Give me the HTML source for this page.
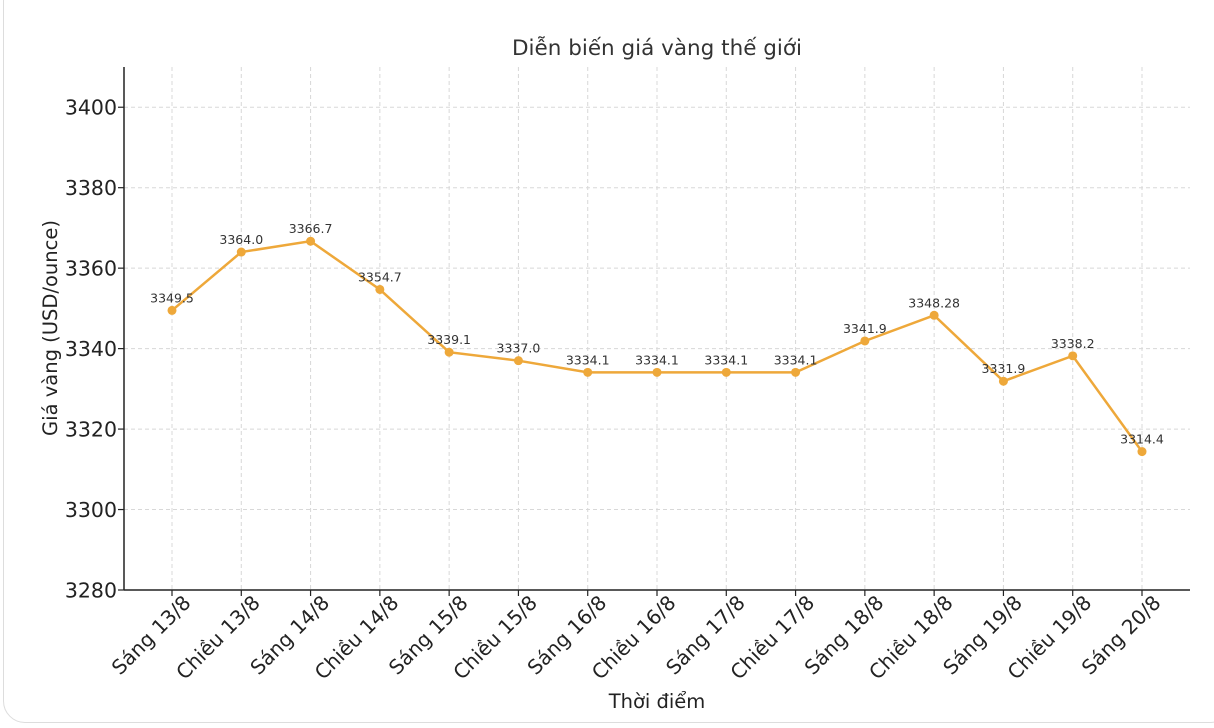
<!DOCTYPE html>
<html><head><meta charset="utf-8"><style>
body{margin:0;background:#fff;}
.frame{position:absolute;left:3px;top:-20px;width:1230px;height:743px;border:1.5px solid #ddd;border-radius:22px;box-sizing:border-box;}
svg{position:absolute;left:0;top:0;font-family:"DejaVu Sans","Liberation Sans",sans-serif;}
</style></head><body>
<div class="frame"></div>
<svg id="chart" width="1214" height="728"></svg>
<script>
const categories=["Sáng 13/8","Chiều 13/8","Sáng 14/8","Chiều 14/8","Sáng 15/8","Chiều 15/8","Sáng 16/8","Chiều 16/8","Sáng 17/8","Chiều 17/8","Sáng 18/8","Chiều 18/8","Sáng 19/8","Chiều 19/8","Sáng 20/8"];
const values=[3349.5,3364.0,3366.7,3354.7,3339.1,3337.0,3334.1,3334.1,3334.1,3334.1,3341.9,3348.28,3331.9,3338.2,3314.4];
const valueLabels=["3349.5","3364.0","3366.7","3354.7","3339.1","3337.0","3334.1","3334.1","3334.1","3334.1","3341.9","3348.28","3331.9","3338.2","3314.4"];
const yTicks=[3280,3300,3320,3340,3360,3380,3400];
const NS="http://www.w3.org/2000/svg";
const svg=document.getElementById('chart');
const L=124,R=1190,T=67,B=590;
const yMin=3280,yMax=3410;
function y(v){return B-(v-yMin)/(yMax-yMin)*(B-T);}
function x(i){return 172+i*(1142-172)/(categories.length-1);}
function mk(tag,attrs,parent){const e=document.createElementNS(NS,tag);for(const k in attrs)e.setAttribute(k,attrs[k]);(parent||svg).appendChild(e);return e;}
yTicks.forEach(t=>{
  const g=mk('line',{x1:L,x2:R,y1:y(t),y2:y(t),stroke:'#d8d8d8','stroke-dasharray':'4,3','stroke-width':1});
  
  
  mk('line',{x1:L-6,x2:L,y1:y(t),y2:y(t),stroke:'#222','stroke-width':1.2});
  const tx=mk('text',{x:L-7,y:y(t)+7.5,'text-anchor':'end','font-size':20.5,fill:'#222'});
  tx.textContent=t;
  
  
});
categories.forEach((c,i)=>{
  const g=mk('line',{x1:x(i),x2:x(i),y1:T,y2:B,stroke:'#d8d8d8','stroke-dasharray':'4,3','stroke-width':1});
  
  
  mk('line',{x1:x(i),x2:x(i),y1:B,y2:B+6,stroke:'#222','stroke-width':1.2});
  const ax=x(i)+20, ay=B+14;
  const tx=mk('text',{x:ax,y:ay,'text-anchor':'end','font-size':20,fill:'#222',transform:`rotate(-45 ${ax} ${ay})`});
  tx.textContent=c;
  
  
});
mk('line',{x1:L,x2:L,y1:T,y2:B,stroke:'#222','stroke-width':1.5});
mk('line',{x1:L,x2:R,y1:B,y2:B,stroke:'#222','stroke-width':1.5});
const pl=mk('polyline',{points:values.map((v,i)=>x(i)+','+y(v)).join(' '),fill:'none',stroke:'#eea83a','stroke-width':2.5});


values.forEach((v,i)=>{
  const c=mk('circle',{cx:x(i),cy:y(v),r:4.5,fill:'#eea83a'});
  
  
  const t=mk('text',{x:x(i),y:y(v)-8,'text-anchor':'middle','font-size':12.5,fill:'#333'});
  t.textContent=valueLabels[i];
  
  
});
const title=mk('text',{x:657,y:55,'text-anchor':'middle','font-size':21.5,fill:'#333'});
title.textContent='Diễn biến giá vàng thế giới';


const xt=mk('text',{x:657,y:708,'text-anchor':'middle','font-size':19.5,fill:'#222'});
xt.textContent='Thời điểm';


const yt=mk('text',{x:57,y:328,'text-anchor':'middle','font-size':19.5,fill:'#222',transform:'rotate(-90 57 328)'});
yt.textContent='Giá vàng (USD/ounce)';


</script>
</body></html>
